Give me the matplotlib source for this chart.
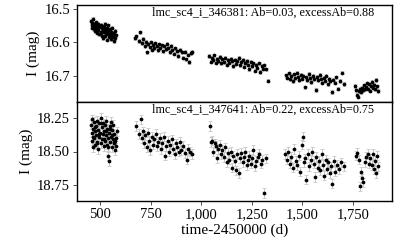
import numpy as np
import matplotlib
matplotlib.use("Agg")
import matplotlib.pyplot as plt
from matplotlib.ticker import FuncFormatter

plt.rcParams["font.family"] = ["Liberation Serif", "DejaVu Serif"]

# ── Data ──────────────────────────────────────────────────────────────────
TOP_LABEL = "lmc_sc4_i_346381: Ab=0.03, excessAb=0.88"
BOT_LABEL = "lmc_sc4_i_347641: Ab=0.22, excessAb=0.75"

# top star, season by season
top_t1 = [455, 458, 460, 462, 465, 467, 470, 472, 475, 477, 480, 482, 485, 487, 490,
          492, 495, 497, 500, 503, 505, 508, 510, 513, 515, 518, 520, 523, 525, 528,
          530, 533, 535, 538, 540, 543, 545, 548, 550, 553, 555, 558, 560, 563, 565,
          568, 570, 573, 575, 578, 463, 473, 483, 493, 503, 513, 523, 533, 543, 553]
top_m1 = [16.535, 16.548, 16.556, 16.541, 16.552, 16.530, 16.560, 16.545, 16.553, 16.566,
          16.540, 16.558, 16.549, 16.571, 16.544, 16.562, 16.555, 16.575, 16.550, 16.568,
          16.547, 16.580, 16.557, 16.563, 16.588, 16.552, 16.570, 16.560, 16.545, 16.576,
          16.565, 16.592, 16.558, 16.571, 16.549, 16.583, 16.566, 16.574, 16.560, 16.590,
          16.569, 16.578, 16.556, 16.585, 16.572, 16.597, 16.575, 16.566, 16.588, 16.579,
          16.545, 16.558, 16.563, 16.551, 16.572, 16.560, 16.582, 16.569, 16.574, 16.581]
top_t2 = [672, 680, 690, 698, 705, 712, 720, 726, 732, 738, 745, 750, 756, 762, 768,
          773, 780, 786, 792, 798, 805, 812, 818, 825, 832, 838, 845, 852, 858, 865,
          872, 880, 887, 895, 903, 910, 918, 925, 933, 940, 948, 955]
top_m2 = [16.588, 16.582, 16.596, 16.570, 16.602, 16.590, 16.611, 16.598, 16.630, 16.605,
          16.615, 16.600, 16.622, 16.608, 16.617, 16.603, 16.612, 16.624, 16.606, 16.618,
          16.609, 16.627, 16.612, 16.620, 16.604, 16.616, 16.628, 16.611, 16.622, 16.633,
          16.618, 16.626, 16.640, 16.623, 16.630, 16.645, 16.628, 16.650, 16.636, 16.658,
          16.632, 16.628]
top_t3 = [1040, 1046, 1052, 1058, 1065, 1072, 1078, 1085, 1092, 1098, 1105, 1112, 1118,
          1125, 1132, 1138, 1145, 1152, 1158, 1165, 1172, 1178, 1185, 1192, 1198, 1205,
          1212, 1218, 1225, 1232, 1238, 1245, 1252, 1258, 1265, 1272, 1278, 1285, 1292,
          1298, 1305, 1312, 1320, 1330]
top_m3 = [16.640, 16.657, 16.646, 16.652, 16.638, 16.660, 16.648, 16.655, 16.643, 16.662,
          16.650, 16.658, 16.645, 16.666, 16.652, 16.660, 16.648, 16.655, 16.670, 16.651,
          16.663, 16.656, 16.646, 16.668, 16.658, 16.652, 16.672, 16.660, 16.655, 16.666,
          16.679, 16.658, 16.670, 16.662, 16.684, 16.667, 16.675, 16.662, 16.688, 16.670,
          16.678, 16.668, 16.680, 16.714]
top_t4 = [1418, 1425, 1432, 1438, 1445, 1452, 1458, 1465, 1472, 1478, 1485, 1492, 1498,
          1505, 1512, 1518, 1525, 1532, 1538, 1545, 1552, 1558, 1565, 1572, 1578, 1585,
          1592, 1598, 1605, 1612, 1618, 1625, 1632, 1638, 1645, 1652, 1660, 1668, 1675,
          1685, 1695, 1705]
top_m4 = [16.698, 16.705, 16.692, 16.710, 16.700, 16.715, 16.695, 16.706, 16.690, 16.702,
          16.712, 16.696, 16.708, 16.699, 16.734, 16.704, 16.712, 16.694, 16.706, 16.718,
          16.700, 16.710, 16.742, 16.703, 16.713, 16.697, 16.708, 16.720, 16.705, 16.714,
          16.699, 16.725, 16.709, 16.716, 16.748, 16.711, 16.720, 16.704, 16.738, 16.715,
          16.690, 16.724]
top_t5 = [1762, 1766, 1770, 1775, 1780, 1785, 1790, 1795, 1800, 1805, 1810, 1815, 1820,
          1825, 1830, 1835, 1840, 1845, 1850, 1855, 1860, 1865, 1870, 1875]
top_m5 = [16.730, 16.742, 16.756, 16.762, 16.745, 16.738, 16.748, 16.735, 16.742, 16.728,
          16.740, 16.733, 16.722, 16.738, 16.725, 16.744, 16.730, 16.718, 16.735, 16.726,
          16.740, 16.712, 16.731, 16.745]
TOP_ERR = 0.005

# bottom star
bot_t1 = [455, 458, 460, 462, 465, 467, 470, 472, 475, 477, 480, 482, 485, 487, 490,
          492, 495, 497, 500, 503, 505, 508, 510, 513, 515, 518, 520, 523, 525, 528,
          530, 533, 535, 538, 540, 542, 545, 548, 550, 553, 555, 558, 560, 563, 565,
          568, 570, 573, 575, 578, 580, 583, 464, 474, 486, 496, 507, 517, 527, 537,
          547, 557, 567]
bot_m1 = [18.30, 18.42, 18.26, 18.36, 18.47, 18.33, 18.28, 18.40, 18.35, 18.45, 18.31,
          18.38, 18.27, 18.43, 18.34, 18.48, 18.29, 18.39, 18.36, 18.25, 18.44, 18.32,
          18.41, 18.37, 18.29, 18.46, 18.35, 18.30, 18.42, 18.38, 18.27, 18.45, 18.33,
          18.40, 18.53, 18.57, 18.36, 18.31, 18.43, 18.39, 18.28, 18.47, 18.34, 18.41,
          18.30, 18.44, 18.37, 18.42, 18.49, 18.40, 18.46, 18.35, 18.39, 18.32, 18.44,
          18.37, 18.29, 18.41, 18.35, 18.47, 18.33, 18.38, 18.43]
bot_t2 = [680, 692, 700, 706, 712, 718, 724, 730, 736, 742, 748, 755, 762, 768, 775,
          782, 788, 795, 802, 808, 815, 822, 828, 835, 842, 848, 855, 862, 868, 875,
          882, 888, 895, 902, 910, 918, 928, 936, 945, 955]
bot_m2 = [18.31, 18.37, 18.26, 18.40, 18.35, 18.44, 18.38, 18.47, 18.36, 18.42, 18.49,
          18.39, 18.45, 18.41, 18.37, 18.46, 18.43, 18.40, 18.48, 18.44, 18.39, 18.53,
          18.46, 18.42, 18.50, 18.45, 18.41, 18.48, 18.52, 18.44, 18.47, 18.50, 18.43,
          18.49, 18.46, 18.51, 18.56, 18.48, 18.50, 18.52]
bot_t3 = [1043, 1050, 1055, 1060, 1066, 1072, 1078, 1085, 1092, 1098, 1105, 1112, 1118,
          1125, 1132, 1138, 1145, 1152, 1158, 1165, 1172, 1178, 1185, 1192, 1198, 1205,
          1212, 1218, 1225, 1232, 1238, 1245, 1252, 1258, 1265, 1272, 1280, 1288, 1295,
          1302, 1310, 1318]
bot_m3 = [18.31, 18.43, 18.42, 18.50, 18.44, 18.46, 18.55, 18.48, 18.45, 18.52, 18.49,
          18.54, 18.47, 18.58, 18.51, 18.56, 18.50, 18.62, 18.53, 18.57, 18.64, 18.52,
          18.66, 18.55, 18.51, 18.58, 18.54, 18.50, 18.60, 18.56, 18.53, 18.59, 18.55,
          18.49, 18.61, 18.57, 18.54, 18.52, 18.59, 18.56, 18.81, 18.55]
bot_t4 = [1415, 1422, 1430, 1438, 1445, 1452, 1460, 1468, 1475, 1482, 1490, 1497, 1502,
          1508, 1515, 1520, 1528, 1535, 1542, 1548, 1555, 1562, 1568, 1575, 1582, 1588,
          1595, 1602, 1608, 1615, 1622, 1628, 1635, 1642, 1648, 1655, 1662, 1670, 1680,
          1692, 1705]
bot_m4 = [18.52, 18.56, 18.50, 18.59, 18.54, 18.62, 18.48, 18.57, 18.60, 18.53, 18.65,
          18.45, 18.39, 18.58, 18.55, 18.71, 18.52, 18.61, 18.56, 18.50, 18.59, 18.69,
          18.54, 18.62, 18.57, 18.64, 18.52, 18.60, 18.68, 18.56, 18.63, 18.58, 18.66,
          18.61, 18.74, 18.57, 18.65, 18.60, 18.63, 18.58, 18.61]
bot_t5 = [1765, 1770, 1778, 1785, 1790, 1795, 1800, 1808, 1815, 1822, 1828, 1835, 1842,
          1848, 1855, 1860, 1865, 1870, 1875]
bot_m5 = [18.53, 18.51, 18.56, 18.76, 18.65, 18.70, 18.73, 18.58, 18.54, 18.52, 18.59,
          18.55, 18.60, 18.52, 18.63, 18.57, 18.66, 18.53, 18.61]
BOT_ERR = 0.035

TOP_YTICKS = [16.5, 16.6, 16.7]
BOT_YTICKS = [18.25, 18.50, 18.75]
XTICKS = [500, 750, 1000, 1250, 1500, 1750]

top_t = np.concatenate([top_t1, top_t2, top_t3, top_t4, top_t5])
top_m = np.concatenate([top_m1, top_m2, top_m3, top_m4, top_m5])
bot_t = np.concatenate([bot_t1, bot_t2, bot_t3, bot_t4, bot_t5])
bot_m = np.concatenate([bot_m1, bot_m2, bot_m3, bot_m4, bot_m5])

# ── Figure ────────────────────────────────────────────────────────────────
fig = plt.figure(figsize=(4, 2.5), dpi=100)
ax_top = fig.add_axes([0.1925, 0.592, 0.7875, 0.388])
ax_bot = fig.add_axes([0.1925, 0.196, 0.7875, 0.396])

panels = [
    (ax_top, top_t, top_m, TOP_ERR, TOP_LABEL, (16.778, 16.488), TOP_YTICKS, "{:.1f}"),
    (ax_bot, bot_t, bot_m, BOT_ERR, BOT_LABEL, (18.87, 18.13), BOT_YTICKS, "{:.2f}"),
]

for ax, t, m, err, label, ylim, yticks, fmt in panels:
    ax.errorbar(t, m, yerr=err, fmt="none", ecolor="#c8c8c8", elinewidth=0.7,
                capsize=1.3, capthick=0.6, zorder=1)
    ax.plot(t, m, "o", color="black", ms=2.7, mew=0, zorder=2)
    ax.set_xlim(386, 1943)
    ax.set_ylim(*ylim)
    ax.set_yticks(yticks)
    ax.set_yticklabels([fmt.format(v) for v in yticks])
    ax.set_ylabel("I (mag)", fontsize=11, labelpad=3)
    ax.text(0.238, 0.98, label, transform=ax.transAxes, ha="left", va="top",
            fontsize=8.7)
    for sp in ax.spines.values():
        sp.set_linewidth(1.0)
    ax.tick_params(axis="both", direction="out", length=3, width=0.6,
                   labelsize=10.5, pad=2, colors="#333333", labelcolor="black")

ax_top.tick_params(axis="x", bottom=False, labelbottom=False)
ax_bot.set_xticks(XTICKS)
ax_bot.xaxis.set_major_formatter(FuncFormatter(lambda v, _: f"{int(v):,}"))
ax_bot.set_xlabel("time-2450000 (d)", fontsize=11, labelpad=2)

fig.savefig("out.png", dpi=100)
